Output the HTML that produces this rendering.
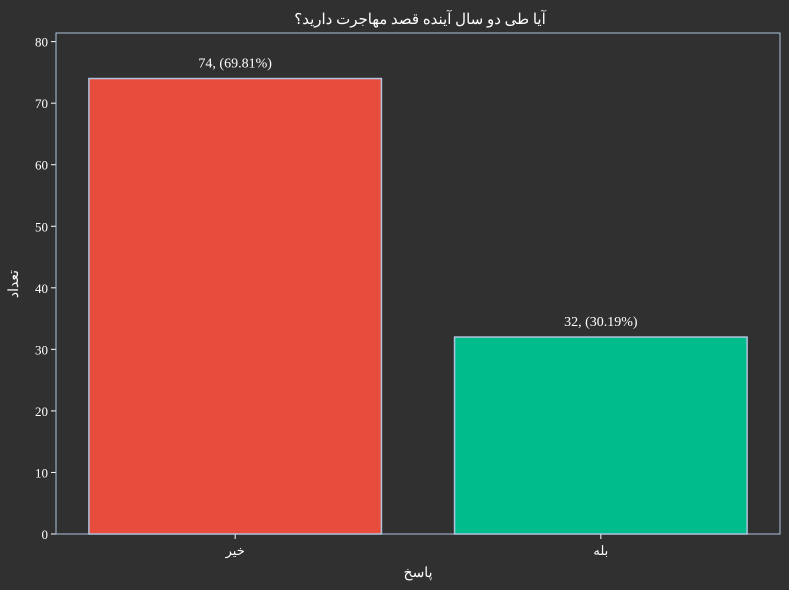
<!DOCTYPE html>
<html><head><meta charset="utf-8"><style>
html,body{margin:0;padding:0;background:#303030;}
svg{display:block;font-family:"Liberation Serif","Noto Sans CJK SC",serif;}
</style></head><body>
<svg id="chart" width="789" height="590" viewBox="0 0 789 590" xmlns="http://www.w3.org/2000/svg">
<rect x="0" y="0" width="789" height="590" fill="#303030"/>
<text x="420" y="24" fill="#ffffff" font-size="15" text-anchor="middle">آیا طی دو سال آینده قصد مهاجرت دارید؟</text>
<text x="418" y="577" fill="#ffffff" font-size="14" text-anchor="middle">پاسخ</text>
<text x="18" y="284" fill="#ffffff" font-size="14" text-anchor="middle" transform="rotate(-90 18 284)">تعداد</text>
<g id="marks"></g>
<rect x="56" y="33" width="724" height="501" fill="none" stroke="#b0c4de" stroke-width="1"/>
</svg>
<script>
const categories = ["خیر", "بله"];
const counts = [74, 32];
const labels = ["74, (69.81%)", "32, (30.19%)"];
const colors = ["#e74c3c", "#00bc8c"];
const yTicks = [0, 10, 20, 30, 40, 50, 60, 70, 80];

const L = 56, R = 780, T = 33, B = 534;
const yMax = Math.max(...counts) * 1.1;
const xMin = -0.49, xMax = categories.length - 1 + 0.49;
const xs = v => L + (v - xMin) / (xMax - xMin) * (R - L);
const ys = v => B - v / yMax * (B - T);
const NS = "http://www.w3.org/2000/svg";
const g = document.getElementById("marks");
function mk(tag, attrs, text) {
  const e = document.createElementNS(NS, tag);
  for (const k in attrs) e.setAttribute(k, attrs[k]);
  if (text !== undefined) e.textContent = text;
  g.appendChild(e);
  return e;
}
yTicks.forEach(t => {
  const y = ys(t);
  if (y < T - 1) return;
  const tk = mk("line", {x1: L - 5, x2: L, y1: y, y2: y, stroke: "#ffffff", "stroke-width": 1});
  
  
  const lb = mk("text", {x: L - 8, y: y + 5, fill: "#ffffff", "font-size": 13, "text-anchor": "end"}, String(t));
  
  
});
const bw = 0.8;
categories.forEach((c, i) => {
  const x0 = xs(i - bw / 2), x1 = xs(i + bw / 2);
  const bar = mk("rect", {x: x0, y: ys(counts[i]), width: x1 - x0, height: B - ys(counts[i]), fill: colors[i], stroke: "#b0c4de", "stroke-width": 1.5});
  
  
  const vl = mk("text", {x: xs(i), y: ys(counts[i]) - 11, fill: "#ffffff", "font-size": 14, "text-anchor": "middle"}, labels[i]);
  
  
  const tk = mk("line", {x1: xs(i), x2: xs(i), y1: B, y2: B + 5, stroke: "#ffffff", "stroke-width": 1});
  
  
  const cl = mk("text", {x: xs(i), y: B + 21, fill: "#ffffff", "font-size": 13, "text-anchor": "middle"}, c);
  
  
});
</script>
</body></html>
